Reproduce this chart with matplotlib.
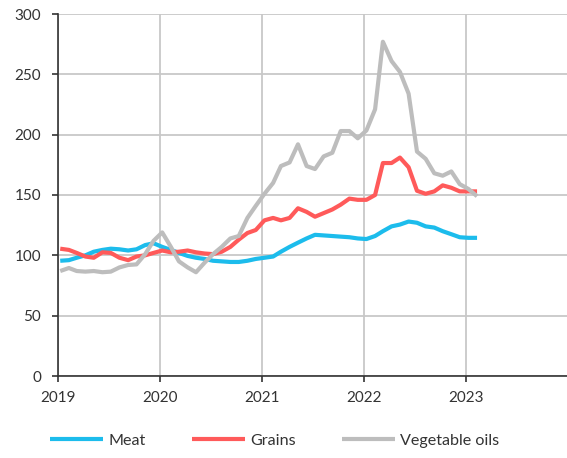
import matplotlib
matplotlib.use("Agg")
import matplotlib.pyplot as plt
import pandas as pd

# monthly index values, Jan 2019 - Feb 2023
months = pd.date_range("2019-01-01", periods=50, freq="MS") + pd.Timedelta(days=8)

meat = [95.5, 96, 98, 100, 103, 104.5, 105.5, 105, 104, 105,
        108.5, 110, 107, 104.5, 102, 99.5, 98, 97, 95.5, 95,
        94.5, 94.5, 95.5, 97, 98, 99, 103, 107, 110.5, 114,
        117, 116.5, 116, 115.5, 115, 114, 113.5, 116, 120, 124,
        125.5, 128, 127, 124, 123, 120, 117.5, 115, 114.5, 114.5]

grains = [105.5, 104.5, 102, 99, 98, 102.5, 102, 98, 96, 99,
          100, 102, 104, 102.5, 103, 104, 102.5, 101.5, 101, 103,
          107, 113, 118.5, 121, 129, 131, 129, 131, 139, 136,
          132, 135, 138, 142, 147, 146, 146, 150, 176.5, 176.5,
          181, 173, 153.5, 151, 153, 158, 156, 153, 153, 153]

veg_oils = [87, 89.5, 87, 86.5, 87, 86, 86.5, 90, 92, 92.5,
            101, 112, 119, 107, 95, 90, 86, 94, 101, 107,
            114, 116, 131, 141, 151, 160, 174, 177, 192, 174,
            171.5, 182, 185, 203, 203, 197, 203.5, 221, 277, 261,
            252, 234, 186, 180, 168, 166, 169.5, 159, 155, 149]

series = [("Meat", meat, "#1cbcec"),
          ("Grains", grains, "#ff5a5a"),
          ("Vegetable oils", veg_oils, "#bdbdbd")]

year_ticks = pd.to_datetime(["2019-01-01", "2020-01-01", "2021-01-01",
                             "2022-01-01", "2023-01-01"])
year_labels = ["2019", "2020", "2021", "2022", "2023"]
y_ticks = [0, 50, 100, 150, 200, 250, 300]

plt.rcParams["font.family"] = ["Lato", "DejaVu Sans"]
fig = plt.figure(figsize=(5.67, 4.58), dpi=100)
ax = fig.add_axes([58 / 567, 82 / 458, 509 / 567, 362 / 458])

for name, vals, col in series:
    ax.plot(months, vals, color=col, linewidth=3, label=name,
            solid_capstyle="butt", solid_joinstyle="round", zorder=3)

ax.set_xlim(pd.Timestamp("2019-01-01"), pd.Timestamp("2023-12-28"))
ax.set_ylim(0, 300)
ax.set_xticks(year_ticks)
ax.set_xticklabels(year_labels)
ax.set_yticks(y_ticks)

ax.grid(True, color="#c8c8c8", linewidth=1.3)
ax.set_axisbelow(True)
for s in ["top", "right"]:
    ax.spines[s].set_visible(False)
for s in ["left", "bottom"]:
    ax.spines[s].set_color("#333333")
    ax.spines[s].set_linewidth(1.2)
    ax.spines[s].set_zorder(4)
ax.tick_params(axis="both", colors="#333333", labelcolor="#333333",
               labelsize=11, length=4, width=1.2)
ax.tick_params(axis="y", pad=8)
ax.tick_params(axis="x", pad=7)

fig.legend(loc="center left", bbox_to_anchor=(50 / 567, 1 - 441 / 458),
           ncol=3, frameon=False, fontsize=11.6, handlelength=3.3,
           handletextpad=0.3, columnspacing=2.9, borderpad=0,
           borderaxespad=0, labelcolor="#333333")

fig.savefig("out.png", dpi=100)
